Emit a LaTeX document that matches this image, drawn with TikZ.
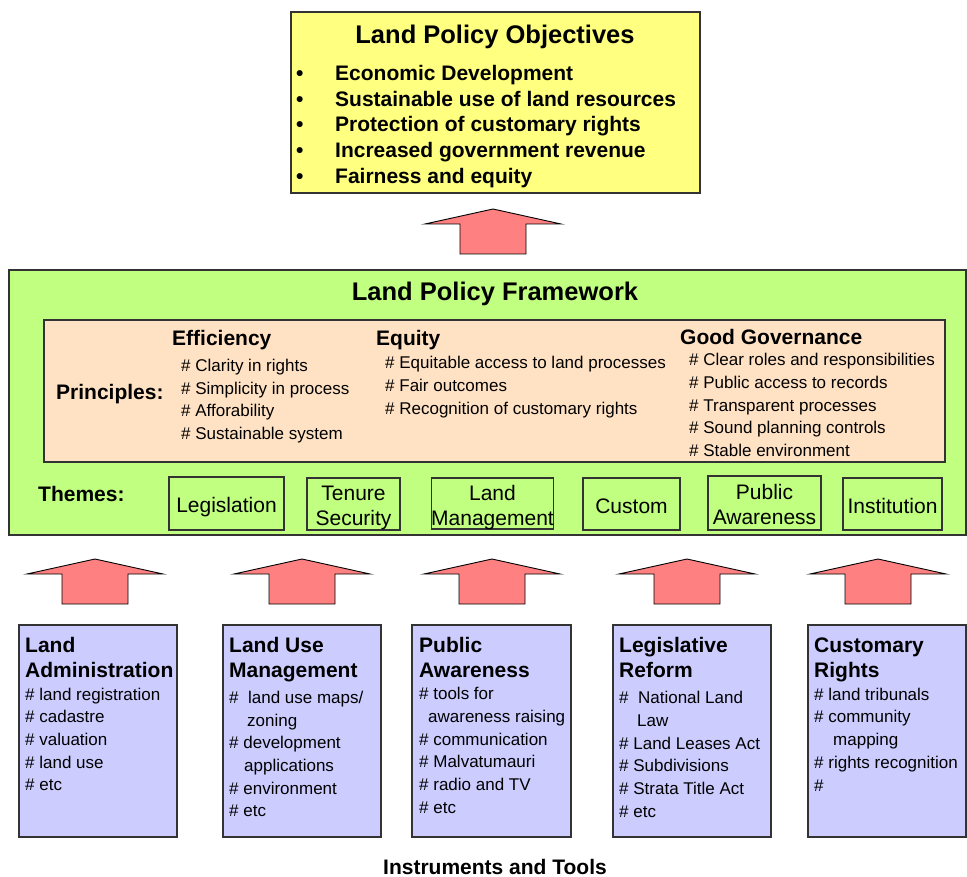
\documentclass[tikz,border=0pt]{standalone}
\usepackage{fontspec}
\setmainfont{Liberation Sans}
\usetikzlibrary{positioning}
\usetikzlibrary{calc}
\definecolor{objyellow}{RGB}{255,255,128}
\definecolor{frmgreen}{RGB}{192,255,128}
\definecolor{prpeach}{RGB}{255,226,196}
\definecolor{instblue}{RGB}{204,204,255}
\definecolor{arrred}{RGB}{255,128,128}
\newcommand{\objbul}{\makebox[39pt][l]{\textbullet}}
\newcommand{\thtext}[1]{\raisebox{-4pt}[\height][\depth]{\begin{tabular}{@{}c@{}}#1\end{tabular}}}
\tikzset{
  panel/.style={draw=black!80, line width=1.2pt, inner sep=0pt},
  themebox/.style={draw=black!80, line width=1.1pt, inner sep=0pt, font=\fontsize{21}{25}\selectfont},
  bigtitle/.style={inner sep=0pt, font=\bfseries\fontsize{25.5}{30}\selectfont},
  headtext/.style={anchor=west, align=left, inner sep=0pt, font=\bfseries\fontsize{21}{25}\selectfont},
  itemtext/.style={anchor=west, align=left, inner sep=0pt, font=\fontsize{17}{22.7}\selectfont},
  blockup/.pic={
    \draw[fill=arrred, draw=black, line width=0.9pt, line join=miter]
      (-33,0) -- (-33,-30) -- (-68,-30) -- (0,-45) -- (68,-30) -- (33,-30) -- (33,0) -- cycle;
  }
}

\begin{document}
\begin{tikzpicture}[x=1pt,y=-1pt]
	\useasboundingbox (0,0) rectangle (967,877);
	% Objectives
	\node[panel, fill=objyellow, minimum width=409pt, minimum height=181pt] (obj) at (495.5,102.5) {};
	\node[bigtitle] (objtitle) at (495,37) {Land Policy Objectives};
	\node[headtext, font=\bfseries\fontsize{21}{25.8}\selectfont] (objlist) at (296,126.5) {\objbul Economic Development\\ \objbul Sustainable use of land resources\\ \objbul Protection of customary rights\\ \objbul Increased government revenue\\ \objbul Fairness and equity};
	% Framework
	\node[panel, fill=frmgreen, minimum width=957pt, minimum height=265pt] (frame) at (487.5,402.5) {};
	\node[bigtitle] (frametitle) at (495,294) {Land Policy Framework};
	\node[panel, fill=prpeach, minimum width=901pt, minimum height=142pt] (princ) at (494.5,391) {};
	\node[headtext] (princlabel) at (56,394) {Principles:};
	\node[headtext] (effhead) at (172,340.5) {Efficiency};
	\node[itemtext] (effitems) at (181,401) {\# Clarity in rights\\ \# Simplicity in process\\ \# Afforability\\ \# Sustainable system};
	\node[headtext] (equhead) at (376,340.5) {Equity};
	\node[itemtext] (equitems) at (385,387) {\# Equitable access to land processes\\ \# Fair outcomes\\ \# Recognition of customary rights};
	\node[headtext] (govhead) at (680,336.5) {Good Governance};
	\node[itemtext] (govitems) at (689,405) {\# Clear roles and responsibilities\\ \# Public access to records\\ \# Transparent processes\\ \# Sound planning controls\\ \# Stable environment};
	% Themes
	\node[headtext] (themelabel) at (38,494) {Themes:};
	\node[themebox, minimum width=115pt, minimum height=53pt] (thleg) at (226.5,503.5) {\thtext{Legislation}};
	\node[themebox, minimum width=93pt, minimum height=52pt] (thten) at (353.5,504) {\thtext{Tenure\\Security}};
	\node[themebox, minimum width=121pt, minimum height=51pt] (thland) at (492.5,503.5) {\thtext{Land\\Management}};
	\node[themebox, minimum width=97pt, minimum height=52pt] (thcust) at (631.5,504) {\thtext{Custom}};
	\node[themebox, minimum width=113pt, minimum height=54pt] (thpub) at (764.5,503) {\thtext{Public\\Awareness}};
	\node[themebox, minimum width=99pt, minimum height=52pt] (thinst) at (892.5,504) {\thtext{Institution}};
	% Arrows
	\pic at (493,254) {blockup};
	\foreach \x in {95,302,492,687,878}
		\pic at (\x,604) {blockup};
	% Instruments
	\node[panel, fill=instblue, minimum width=158pt, minimum height=212pt] (la) at (98,731) {};
	\node[panel, fill=instblue, minimum width=158pt, minimum height=212pt] (lum) at (302,731) {};
	\node[panel, fill=instblue, minimum width=159pt, minimum height=212pt] (pa) at (491.5,731) {};
	\node[panel, fill=instblue, minimum width=158pt, minimum height=212pt] (lr) at (692,731) {};
	\node[panel, fill=instblue, minimum width=158pt, minimum height=212pt] (cr) at (887,731) {};
	\node[headtext] (lahead) at (25,657.5) {Land\\Administration};
	\node[itemtext] (laitems) at (25,739.5) {\# land registration\\ \# cadastre\\ \# valuation\\ \# land use\\ \# etc};
	\node[headtext] (lumhead) at (229,659.5) {Land Use\\Management};
	\node[itemtext] (lumitems) at (229,754) {\#\ \ land use maps/\\ \hspace*{18pt}zoning\\ \# development\\ \hspace*{15pt}applications\\ \# environment\\ \# etc};
	\node[headtext] (pahead) at (419,657.5) {Public\\Awareness};
	\node[itemtext] (paitems) at (419,750.5) {\# tools for\\ \hspace*{9pt}awareness raising\\ \# communication\\ \# Malvatumauri\\ \# radio and TV\\ \# etc};
	\node[headtext] (lrhead) at (619,657.5) {Legislative\\Reform};
	\node[itemtext] (lritems) at (619,754.5) {\#\ \ National Land\\ \hspace*{18pt}Law\\ \# Land Leases Act\\ \# Subdivisions\\ \# Strata Title Act\\ \# etc};
	\node[headtext] (crhead) at (814,659.5) {Customary\\Rights};
	\node[itemtext] (critems) at (814,739.5) {\# land tribunals\\ \# community\\ \hspace*{19pt}mapping\\ \# rights recognition\\ \#};
	\node[headtext, anchor=center] (instlabel) at (495,866.5) {Instruments and Tools};
\end{tikzpicture}
\end{document}
